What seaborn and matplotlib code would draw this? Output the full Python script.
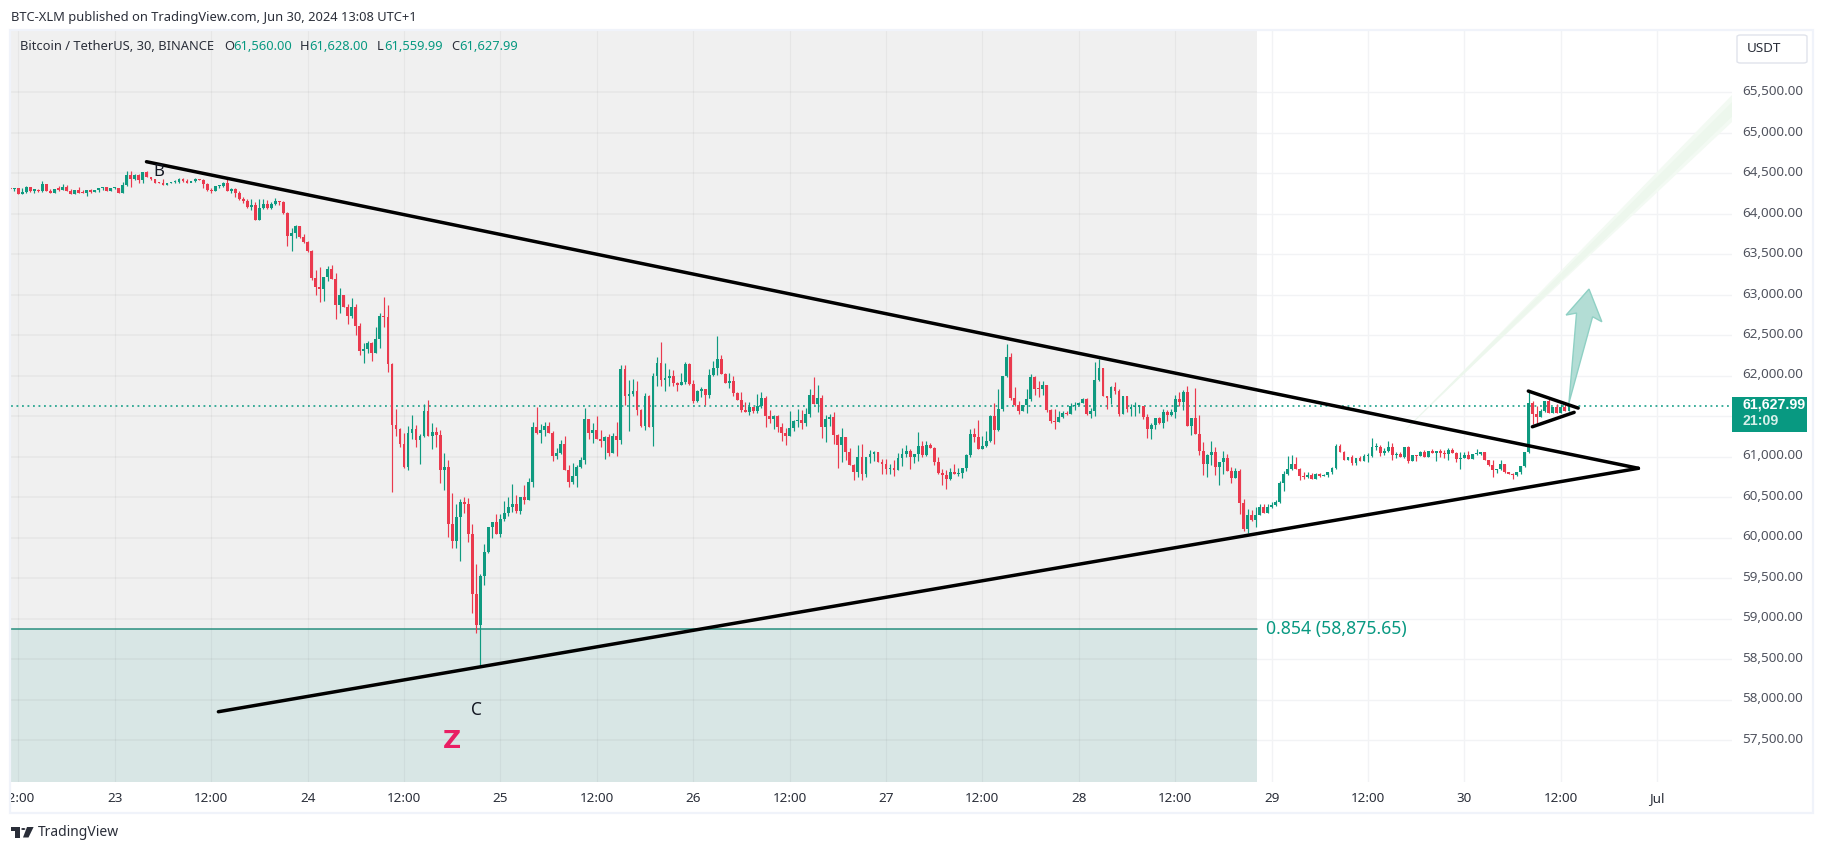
#!/usr/bin/env python3
import numpy as np
import pandas as pd
import matplotlib as mpl
mpl.use('Agg')
import matplotlib.pyplot as plt
import matplotlib.ticker as ticker
from matplotlib.patches import Rectangle, Polygon, Circle, FancyBboxPatch
from matplotlib.transforms import Bbox, ScaledTranslation
import seaborn as sns

W, H = 1824, 852
UP = '#0f9a80'
DOWN = '#ea3a4e'
TEAL = '#089981'

first_open = 64320
closes = [
    64310, 64315, 64245, 64274, 64327, 64286, 64294, 64282, 64369, 64282,
    64262, 64307, 64299, 64331, 64286, 64245, 64290, 64262, 64257, 64294,
    64274, 64294, 64315, 64327, 64286, 64315, 64323, 64262, 64352, 64480,
    64426, 64480, 64418, 64513, 64459, 64426, 64385, 64381, 64360, 64381,
    64393, 64397, 64430, 64406, 64385, 64401, 64426, 64418, 64369, 64294,
    64278, 64344, 64348, 64377, 64282, 64303, 64262, 64183, 64154, 64084,
    64109, 63924, 64072, 64121, 64072, 64117, 64154, 64146, 64006, 63726,
    63763, 63854, 63714, 63652, 63541, 63202, 63090, 63066, 63214, 63313,
    63189, 62868, 62992, 62843, 62732, 62843, 62609, 62300, 62325, 62399,
    62275, 62448, 62732, 62720, 62139, 61386, 61337, 61151, 60867, 61287,
    61337, 61201, 61250, 61559, 61250, 61300, 61263, 60830, 60867, 60162,
    59964, 60249, 60434, 60409, 60039, 59298, 58915, 59520, 59816, 60125,
    60187, 60039, 60224, 60298, 60384, 60409, 60323, 60496, 60459, 60681,
    61360, 61298, 61323, 61373, 61286, 61014, 61039, 61150, 60829, 60681,
    60767, 60866, 60953, 61471, 61286, 61323, 61212, 61187, 61237, 61039,
    61261, 61200, 62084, 61750, 61775, 61812, 61577, 61380, 61750, 61367,
    61997, 62158, 61948, 61973, 61998, 61911, 61887, 61924, 62146, 61899,
    61689, 61813, 61837, 61763, 62010, 62097, 62208, 62023, 61911, 61936,
    61788, 61701, 61578, 61553, 61615, 61566, 61627, 61726, 61504, 61467,
    61504, 61368, 61294, 61257, 61356, 61442, 61454, 61417, 61529, 61763,
    61652, 61726, 61368, 61467, 61491, 61269, 61146, 61244, 61059, 60899,
    60812, 60997, 60787, 60997, 61034, 61059, 60936, 60911, 60849, 60862,
    60837, 60985, 61034, 61072, 60997, 61034, 61133, 61022, 61146, 61109,
    60936, 60800, 60775, 60726, 60812, 60787, 60800, 60862, 61022, 61281,
    61244, 61096, 61133, 61195, 61504, 61331, 61590, 61998, 62233, 61726,
    61640, 61566, 61640, 61714, 61986, 61837, 61833, 61887, 61578, 61442,
    61430, 61491, 61541, 61529, 61627, 61640, 61664, 61714, 61529, 61566,
    61948, 62097, 61751, 61726, 61862, 61813, 61529, 61751, 61590, 61615,
    61619, 61627, 61491, 61343, 61393, 61479, 61417, 61553, 61516, 61553,
    61714, 61677, 61800, 61380, 61479, 61281, 61072, 60911, 61022, 61063,
    60874, 60936, 60985, 60824, 60738, 60824, 60429, 60108, 60281, 60219,
    60281, 60374, 60300, 60374, 60399, 60436, 60670, 60782, 60843, 60905,
    60843, 60757, 60753, 60769, 60720, 60782, 60757, 60769, 60806, 60856,
    61127, 61053, 60955, 60992, 60917, 60979, 60942, 61004, 61008, 61115,
    61119, 61041, 61066, 61115, 61016, 61029, 60992, 61115, 60942, 61016,
    61004, 61053, 60992, 61066, 61041, 61066, 61041, 61033, 61078, 61041,
    60967, 60979, 61016, 60967, 61029, 61033, 61053, 60955, 60893, 60831,
    60843, 60905, 60806, 60782, 60769, 60806, 60880, 61053, 61659, 61523,
    61486, 61560, 61683, 61535, 61609, 61535, 61609, 61560, 61627.99,
]
highs = [
    64325, 64315, 64323, 64315, 64344, 64327, 64303, 64311, 64406, 64369,
    64307, 64311, 64344, 64369, 64352, 64307, 64290, 64327, 64294, 64299,
    64307, 64294, 64319, 64331, 64331, 64319, 64336, 64319, 64389, 64529,
    64529, 64488, 64488, 64521, 64529, 64459, 64434, 64393, 64426, 64385,
    64397, 64418, 64443, 64443, 64434, 64401, 64447, 64430, 64426, 64377,
    64315, 64344, 64356, 64389, 64426, 64319, 64315, 64282, 64212, 64183,
    64183, 64142, 64183, 64183, 64171, 64150, 64191, 64154, 64159, 64023,
    63821, 63862, 63854, 63747, 63660, 63547, 63300, 63337, 63214, 63350,
    63362, 63263, 63078, 62992, 62880, 62955, 62880, 62646, 62399, 62424,
    62411, 62596, 62769, 62967, 62868, 62152, 61584, 61349, 61287, 61374,
    61510, 61386, 61275, 61645, 61695, 61411, 61361, 61324, 61040, 60953,
    60557, 60421, 60471, 60496, 60483, 60162, 59668, 59545, 59915, 60125,
    60187, 60286, 60286, 60446, 60496, 60668, 60520, 60496, 60644, 60730,
    61434, 61607, 61397, 61422, 61422, 61311, 61101, 61200, 61261, 60891,
    60916, 60891, 60990, 61595, 61471, 61410, 61496, 61323, 61261, 61274,
    61286, 61434, 62133, 62133, 61948, 61960, 61936, 61590, 61787, 61763,
    62034, 62232, 62418, 62158, 62084, 62072, 61924, 62035, 62171, 62158,
    61948, 61825, 61862, 61837, 62084, 62183, 62492, 62257, 62035, 62035,
    61998, 61800, 61800, 61677, 61677, 61615, 61776, 61800, 61751, 61578,
    61516, 61516, 61417, 61356, 61566, 61454, 61590, 61578, 61603, 61837,
    61986, 61887, 61763, 61516, 61529, 61553, 61282, 61356, 61244, 61109,
    60911, 61146, 61158, 60997, 61084, 61072, 61059, 60973, 60973, 60911,
    60960, 61047, 61109, 61146, 61096, 61034, 61306, 61195, 61195, 61170,
    61121, 60997, 60849, 60837, 60862, 60911, 60862, 60862, 61034, 61343,
    61356, 61454, 61257, 61319, 61516, 61664, 61837, 61998, 62393, 62282,
    61862, 61689, 61640, 61837, 62023, 61998, 61936, 61936, 61887, 61590,
    61590, 61566, 61566, 61566, 61664, 61677, 61677, 61726, 61726, 61603,
    62171, 62208, 62097, 61751, 61874, 61924, 61837, 61751, 61751, 61652,
    61677, 61640, 61627, 61529, 61417, 61479, 61491, 61590, 61578, 61590,
    61763, 61800, 61825, 61874, 61479, 61850, 61516, 61183, 61034, 61195,
    61121, 60936, 61072, 61034, 60874, 60862, 60849, 60479, 60355, 60343,
    60380, 60411, 60411, 60411, 60436, 60461, 60695, 60819, 61004, 61016,
    60992, 60856, 60806, 60810, 60794, 60794, 60794, 60790, 60806, 60868,
    61152, 61152, 61066, 60992, 61016, 60979, 61004, 61029, 61041, 61226,
    61165, 61140, 61103, 61189, 61165, 61053, 61053, 61115, 61127, 61016,
    61016, 61066, 61078, 61066, 61090, 61066, 61090, 61078, 61103, 61103,
    61053, 61053, 61053, 61066, 61029, 61090, 61053, 61053, 60955, 60955,
    60843, 60955, 60905, 60806, 60802, 60806, 60880, 61053, 61819, 61683,
    61622, 61584, 61683, 61708, 61609, 61646, 61646, 61646, 61628,
]
lows = [
    64300, 64282, 64245, 64245, 64253, 64270, 64257, 64274, 64266, 64282,
    64257, 64262, 64282, 64290, 64286, 64245, 64245, 64257, 64253, 64224,
    64262, 64266, 64270, 64294, 64286, 64282, 64307, 64257, 64257, 64344,
    64336, 64418, 64376, 64385, 64455, 64418, 64381, 64381, 64356, 64356,
    64381, 64385, 64385, 64397, 64381, 64389, 64393, 64414, 64315, 64282,
    64257, 64278, 64319, 64336, 64278, 64257, 64212, 64171, 64129, 64068,
    64047, 63924, 63924, 64060, 64064, 64064, 64109, 64105, 63994, 63603,
    63545, 63697, 63697, 63640, 63529, 63177, 62992, 62905, 62918, 63165,
    63189, 62695, 62769, 62843, 62633, 62708, 62498, 62251, 62152, 62275,
    62176, 62275, 62337, 62596, 62041, 60559, 61250, 61114, 60855, 60830,
    61213, 61114, 60904, 61238, 61250, 61090, 61114, 60670, 60583, 60002,
    59866, 59866, 59717, 60298, 59940, 59063, 58816, 58421, 59409, 59804,
    59989, 60039, 60002, 60199, 60261, 60310, 60298, 60286, 60421, 60459,
    60631, 61274, 61163, 61249, 61286, 60940, 60965, 61027, 60829, 60631,
    60668, 60631, 60854, 60903, 61224, 61163, 61212, 61125, 60965, 61002,
    61039, 61014, 61162, 61639, 61318, 61750, 61516, 61367, 61330, 61367,
    61133, 61874, 61874, 61813, 61874, 61874, 61813, 61887, 61899, 61887,
    61664, 61677, 61738, 61640, 61726, 61998, 62010, 62023, 61911, 61850,
    61751, 61701, 61553, 61553, 61516, 61541, 61541, 61603, 61368, 61417,
    61343, 61306, 61195, 61146, 61257, 61319, 61368, 61343, 61380, 61491,
    61652, 61553, 61232, 61183, 61380, 61158, 60862, 60936, 60960, 60899,
    60713, 60750, 60713, 60750, 60923, 60948, 60936, 60787, 60787, 60787,
    60763, 60837, 60886, 60997, 60849, 60923, 60948, 60997, 61010, 61109,
    60899, 60787, 60652, 60602, 60713, 60787, 60763, 60738, 60824, 60997,
    61183, 61096, 61096, 61121, 61183, 61158, 61319, 61566, 61986, 61701,
    61627, 61529, 61566, 61541, 61689, 61763, 61738, 61763, 61553, 61417,
    61343, 61430, 61479, 61516, 61529, 61578, 61640, 61664, 61516, 61479,
    61504, 61936, 61751, 61590, 61652, 61776, 61504, 61529, 61553, 61504,
    61504, 61541, 61467, 61232, 61220, 61343, 61405, 61356, 61442, 61504,
    61479, 61627, 61578, 61380, 61269, 61281, 61022, 60775, 60750, 60899,
    60775, 60652, 60787, 60824, 60676, 60738, 60293, 60083, 60059, 60207,
    60133, 60275, 60300, 60300, 60362, 60386, 60423, 60572, 60769, 60831,
    60843, 60708, 60720, 60732, 60720, 60720, 60745, 60757, 60753, 60782,
    60843, 61053, 60955, 60955, 60893, 60893, 60942, 60942, 60930, 60992,
    61078, 61004, 61016, 61053, 60955, 60979, 60992, 60979, 60917, 60942,
    60942, 61004, 60992, 60992, 61041, 60942, 60992, 60979, 60955, 61041,
    60930, 60843, 60979, 60967, 60967, 61016, 61016, 60955, 60880, 60745,
    60794, 60831, 60794, 60782, 60720, 60757, 60782, 60868, 61041, 61399,
    61412, 61486, 61547, 61535, 61535, 61535, 61535, 61560, 61559.99,
]

price_ticks = list(range(57500, 66000, 500))
hidden_tick = 61500  # sits behind the last price tag
time_labels = ['12:00', '23', '12:00', '24', '12:00', '25', '12:00', '26', '12:00',
               '27', '12:00', '28', '12:00', '29', '12:00', '30', '12:00', 'Jul']
time_positions = [2 + 24 * n for n in range(len(time_labels))]

last_price = 61627.99
fib_price = 58875.65
shade_end = 310.3

# drawings, as bar number / price pairs
trend_seg = [0, 0, 1, 1, 2, 2, 3, 3]
trend_bar = [33.9, 405.3, 51.8, 405.3, 377.9, 390.3, 378.9, 389.3]
trend_price = [64643, 60856, 57849, 60856, 61810, 61600, 61369, 61547]
arrow_bar = [388, 389.9, 387.3, 393, 396.2, 393.9]
arrow_price = [61662, 62774, 62749, 63070, 62666, 62728]
band_bar = [347.2, 428.6, 428.6, 348.4]
band_price = [61320, 65467, 65133, 61395]
band_mid_price = [61335, 65380, 65200, 61380]

opens = [first_open] + closes[:-1]
candles = pd.DataFrame({'bar': range(len(closes)), 'open': opens, 'high': highs,
                        'low': lows, 'close': closes})
candles['up'] = candles['close'] >= candles['open']
trends = pd.DataFrame({'seg': trend_seg, 'bar': trend_bar, 'price': trend_price})

sns.set_theme(style='white')
plt.rcParams['font.family'] = ['Noto Sans', 'DejaVu Sans']

fig = plt.figure(figsize=(W / 100, H / 100), dpi=100, facecolor='white')
ax = fig.add_axes([11 / W, 1 - 782 / H, (1732 - 11) / W, (782 - 30) / H])
y_bottom, y_top = 56981, 66270
ax.set_xlim(0.17, 428.6)
ax.set_ylim(y_bottom, y_top)
sns.despine(ax=ax, left=True, right=True, top=True, bottom=True)
ax.set_axisbelow(True)
ax.grid(True, color='#f2f3f5', linewidth=1)

# shaded fib zone, the grid shows darker through it
ax.axvspan(0, shade_end, ymin=0, ymax=1, color='#f0f0f0', lw=0, zorder=0.6)
ax.fill_between([0, shade_end], y_bottom, fib_price, color='#d8e6e5', lw=0, zorder=0.7)
ax.hlines(price_ticks, 0, shade_end, color='black', alpha=0.045, lw=1.1, zorder=0.8)
ax.vlines([p for p in time_positions if p < shade_end], y_bottom, y_top,
          color='black', alpha=0.04, lw=0.9, zorder=0.8)
ax.plot([0, shade_end], [fib_price, fib_price], color='#2b9080', lw=1.1, zorder=1)

ax.fill(band_bar, band_price, color='#f3faf3', lw=0, zorder=1)
ax.fill(band_bar, band_mid_price, color='#edf7ed', lw=0, zorder=1.1)

ax.axhline(last_price, color=TEAL, lw=1.1, ls=(0, (1.2, 2.4)), zorder=1.5)

for is_up, color in ((True, UP), (False, DOWN)):
    part = candles[candles['up'] == is_up]
    ax.vlines(part['bar'], part['low'], part['high'], color=color, lw=0.85, zorder=2)
    bottoms = part[['open', 'close']].min(axis=1)
    heights = (part['close'] - part['open']).abs().clip(lower=14)
    ax.bar(part['bar'], heights, bottom=bottoms, width=0.7, color=color, lw=0, zorder=2.5)

sns.lineplot(data=trends, x='bar', y='price', units='seg', estimator=None, sort=False,
             color='black', linewidth=2.5, legend=False, ax=ax, zorder=4)
ax.fill(arrow_bar, arrow_price, facecolor='#b3ddd5', edgecolor='#8fd0c4', lw=1, zorder=3.5)

ax.set_xlabel('')
ax.set_ylabel('')
ax.yaxis.tick_right()
ax.set_yticks(price_ticks)
ax.yaxis.set_major_formatter(ticker.FuncFormatter(
    lambda v, pos: '' if v == hidden_tick else f'{v:,.2f}'))
ax.set_xticks(time_positions)
ax.set_xticklabels(time_labels)
ax.tick_params(axis='y', length=0, pad=7.2, labelsize=9.7, labelcolor='#50535e')
ax.tick_params(axis='x', length=0, pad=7, labelsize=9.7, labelcolor='#2a2e39')
clip = Bbox([[11, 0], [1824, 852]])
for tick_text in ax.get_xticklabels():
    tick_text.set_clip_box(clip)
    tick_text.set_clip_on(True)
lift = ScaledTranslation(0, 1.6 / 72, fig.dpi_scale_trans)
for tick_text in ax.get_yticklabels():
    tick_text.set_transform(tick_text.get_transform() + lift)

ax.text(37, 64516, 'B', fontsize=12, color='#131722', ha='center', va='center', zorder=5)
ax.text(116.1, 57870, 'C', fontsize=12.5, color='#131722', ha='center', va='center', zorder=5)
ax.text(110, 57487, 'Z', fontsize=18, color='#e91e63', fontweight='bold',
        family=['DejaVu Sans'], ha='center', va='center', zorder=5)
ax.text(312.5, fib_price, '0.854 (58,875.65)', fontsize=12.7, color=TEAL, va='center', zorder=5)


def pt(x, y):
    return x / W, 1 - y / H


def label(x, y, text, **kw):
    kw.setdefault('fontsize', 9.3)
    kw.setdefault('color', '#2a2e39')
    fig.text(*pt(x, y), text, va='center', **kw)


def box(x0, y0, x1, y1, **kw):
    fig.add_artist(Rectangle(pt(x0, y1), (x1 - x0) / W, (y1 - y0) / H,
                             transform=fig.transFigure, **kw))


# outer frame and price scale furniture
box(10, 30, 1813, 813, fill=False, edgecolor='#f0f3fa', lw=1.6)
box(1732, 397, 1807, 432, facecolor=TEAL, edgecolor='none')
label(1743, 405, '61,627.99', color='white', fontweight='bold', fontsize=10.2, family=['Liberation Sans'])
label(1743, 421, '21:09', color='#d7f0ea', fontsize=10.2, fontweight='bold', family=['Liberation Sans'])
fig.add_artist(FancyBboxPatch(pt(1737, 63), 70 / W, 28 / H, boxstyle='round,pad=0,rounding_size=0.002',
                              transform=fig.transFigure, facecolor='white', edgecolor='#e0e3eb', lw=1))
label(1747, 49, 'USDT', fontsize=9.7)

label(11, 17, 'BTC-XLM published on TradingView.com, Jun 30, 2024 13:08 UTC+1')
label(20, 47, 'Bitcoin / TetherUS, 30, BINANCE')
for x_key, key, x_val, val in ((224, 'O', 233, '61,560.00'), (300, 'H', 309, '61,628.00'),
                               (377, 'L', 384, '61,559.99'), (451, 'C', 459, '61,627.99')):
    label(x_key, 47, key)
    label(x_val, 47, val, color=TEAL)

# logo
logo = '#2a2e39'
fig.add_artist(Polygon([pt(11, 827), pt(20, 827), pt(20, 837.5), pt(15.5, 837.5), pt(15.5, 831), pt(11, 831)],
                       transform=fig.transFigure, facecolor=logo, edgecolor='none'))
fig.add_artist(Polygon([pt(27, 827), pt(33.6, 827), pt(28.5, 837.5), pt(23, 837.5)],
                       transform=fig.transFigure, facecolor=logo, edgecolor='none'))
fig.add_artist(Circle(pt(23.3, 829), 2.1 / W, transform=fig.transFigure, facecolor=logo, edgecolor='none'))
label(38, 833, 'TradingView', fontsize=10)

fig.savefig('out.png', dpi=100)
